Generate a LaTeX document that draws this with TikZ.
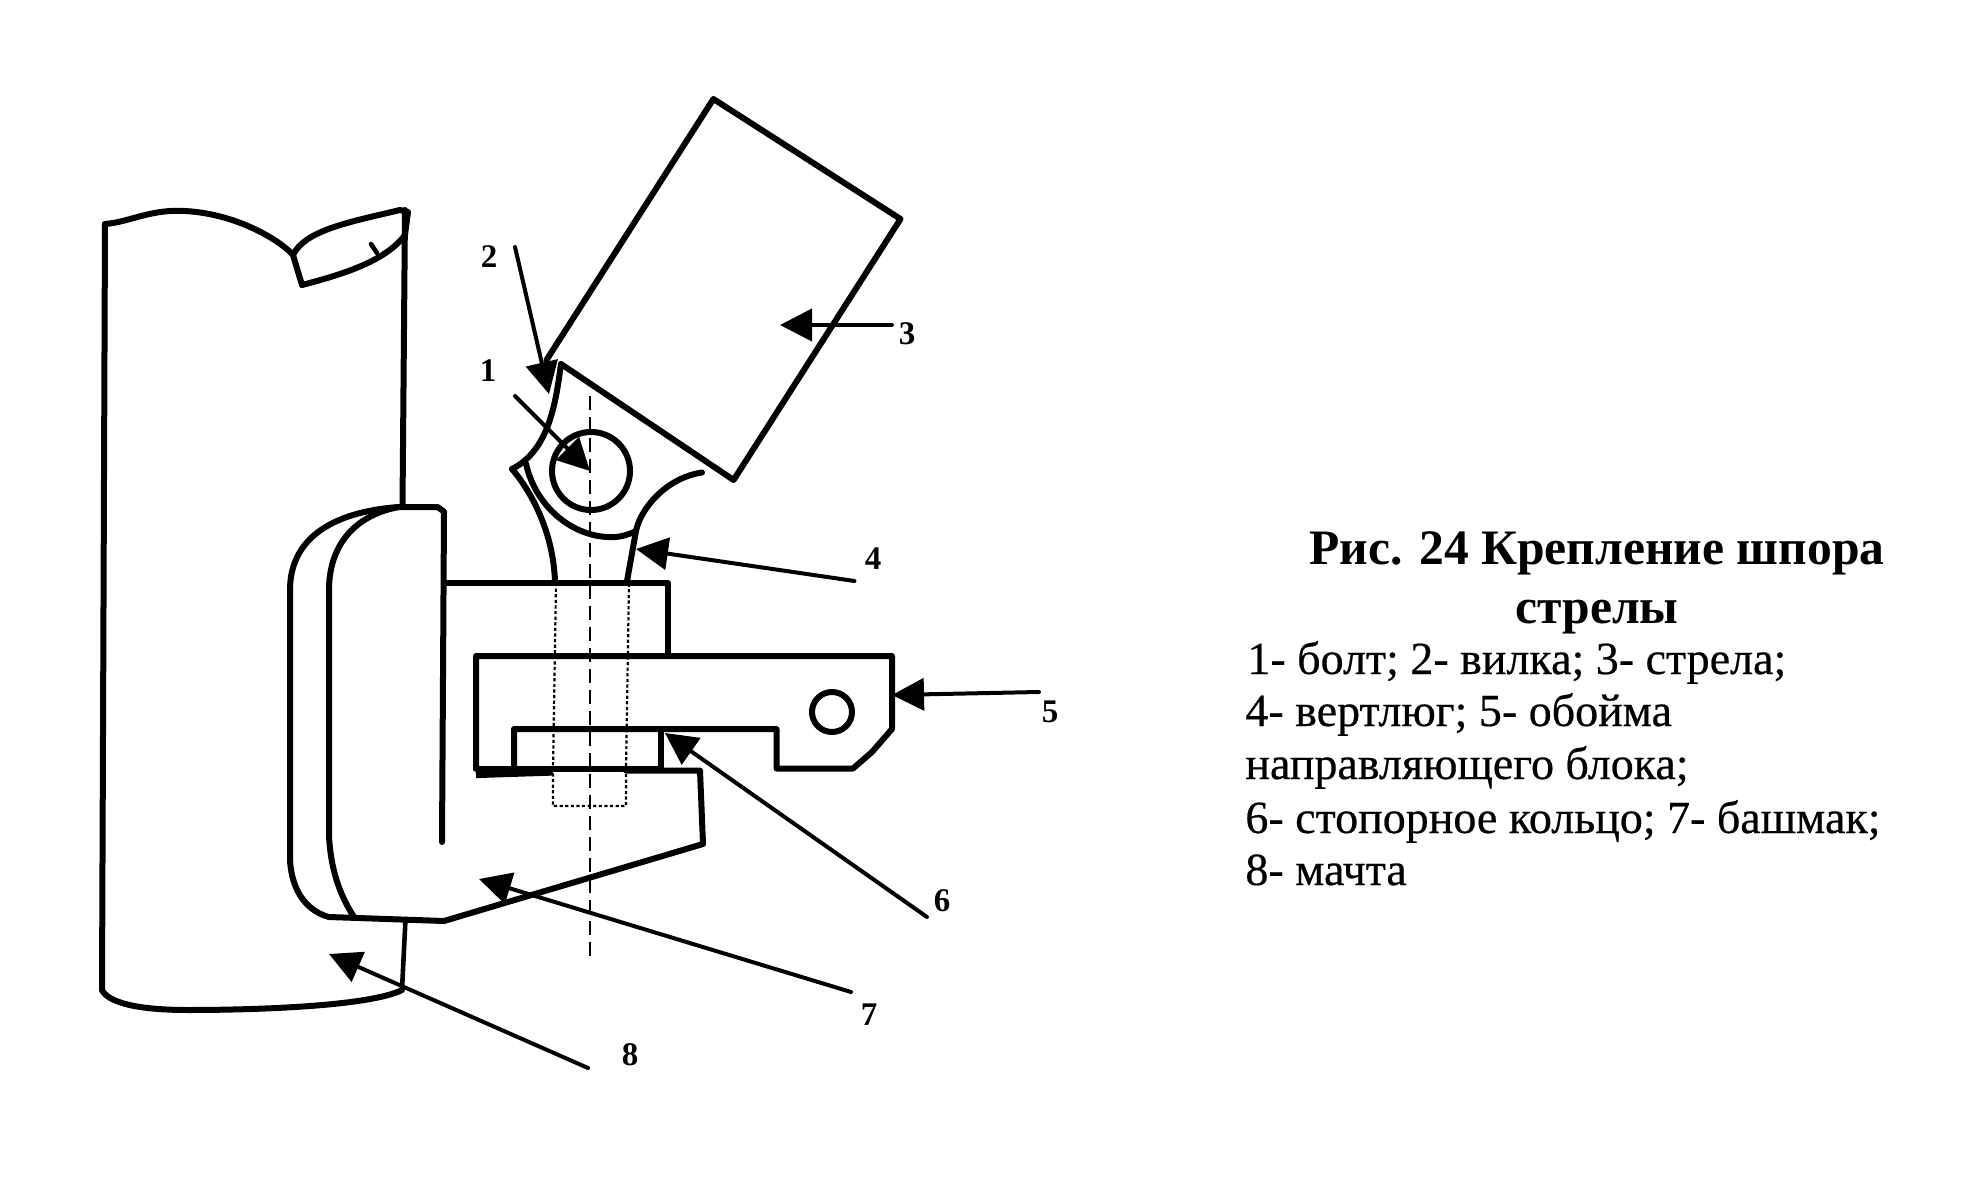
\documentclass[tikz,border=0pt]{standalone}
\usepackage{fontspec}
\setmainfont{Liberation Serif}
\newfontfamily\capfont[FakeBold=0.5]{Liberation Serif}
\usetikzlibrary{arrows.meta}
\tikzset{
  part/.style={line width=3pt,line cap=round,line join=round},
  thin part/.style={line width=2.3pt,line cap=round,line join=round},
  leader/.style={line width=2pt,line cap=round,-{Triangle[length=16pt,width=16pt]}},
  axisline/.style={line width=1.4pt,dash pattern=on 7pt off 3.5pt},
  hidden/.style={line width=1.1pt,dash pattern=on 1.6pt off 1.2pt},
  numlabel/.style={font=\bfseries\fontsize{16.5}{16.5}\selectfont,inner sep=0pt},
  caption/.style={font=\capfont\fontsize{23}{24}\selectfont,inner sep=0pt,anchor=base west},
  title/.style={font=\bfseries\fontsize{24.8}{25}\selectfont,inner sep=0pt,anchor=base}
}
\begin{document}
\begin{tikzpicture}[x=0.5pt,y=-0.5pt]
\path[use as bounding box,fill=white] (0,0) rectangle (1970,1192);

% mast
\draw[part] (405,210) -- (402.5,506);
\draw[part] (105,224) -- (102,990);
\draw[part] (105,224) .. controls (130,222) and (150,209) .. (185,211) .. controls (240,214) and (283,243) .. (293,255) -- (302,285);
\draw[part] (302,285) .. controls (340,275) and (385,262) .. (405,235) -- (408,212) -- (400,210);
\draw[part] (400,210) .. controls (350,222) and (305,230) .. (293,255);
\draw[thin part] (371,244) -- (377,253);
\draw[thin part] (405.5,919) -- (402,990);
\draw[part] (102,990) .. controls (108,1002) and (135,1010) .. (188,1010) .. controls (260,1010) and (370,1006) .. (402,990);

% boom
\draw[part] (546.5,360) -- (713.4,99) -- (900.5,219) -- (733.6,480) -- (561,364);

% fork / swivel
\draw[part] (561,364) .. controls (556,400) and (550,450) .. (512,469);
\draw[part] (512,469) .. controls (530,490) and (553,530) .. (555,581);
\draw[part] (526,463.6) .. controls (535,505) and (570,535) .. (607,537) .. controls (618,538) and (628,535) .. (636,531);
\draw[part] (702,472.5) .. controls (665,478) and (640,510) .. (636,531) -- (627,581);

% bolt
\node[draw,part,circle,minimum size=39pt,inner sep=0pt] (bolt) at (591,471) {};

% shoe
\draw[part] (290,590) .. controls (290,540) and (330,512) .. (399,507);
\draw[part] (399,507) -- (437.5,507) -- (444,511.6) -- (442,842);
\draw[part] (290,590) -- (290,860) .. controls (292,895) and (310,912) .. (329,917);
\draw[part] (399,507) .. controls (355,515) and (329,545) .. (329,590) -- (329,836) .. controls (331,875) and (343,900) .. (354,917);
\draw[part] (329,917) -- (444,921) -- (703,844) -- (700,770.5) -- (626,770.5);
\draw[part] (444,583) -- (668,583) -- (668,654);
\draw[line width=3.6pt] (476,774.5) -- (553,772);

% clamp
\draw[part] (476,768.5) -- (476,656) -- (892,656) -- (892,729) -- (872,752) -- (853,768.5) -- (776.5,768.5) -- (776.5,729) -- (514,729) -- (514,766.5);
\draw[part] (476,768.5) -- (514,768.5) -- (661,768.5) -- (661,733);
\node[draw,part,circle,minimum size=20pt,inner sep=0pt] (hole) at (832,712) {};

% hidden lines
\draw[axisline] (590,396) -- (590,956);
\draw[hidden] (556,583) -- (553,770) -- (553,806) -- (626,806) -- (626,770) -- (629,583);

% labels
\node[numlabel] (n1) at (488,371) {1};
\node[numlabel] (n2) at (489,257) {2};
\node[numlabel] (n3) at (907,334) {3};
\node[numlabel] (n4) at (873,559) {4};
\node[numlabel] (n5) at (1050,712) {5};
\node[numlabel] (n6) at (942,901) {6};
\node[numlabel] (n7) at (869,1015) {7};
\node[numlabel] (n8) at (630,1055) {8};

% leader ends
\coordinate (t1) at (515,396); \coordinate (h1) at (590,471);
\coordinate (t2) at (515,247); \coordinate (h2) at (549,394);
\coordinate (t3) at (892,325); \coordinate (h3) at (780,325);
\coordinate (t4) at (854.5,581); \coordinate (h4) at (636,549);
\coordinate (t5) at (1039,692); \coordinate (h5) at (892,695);
\coordinate (t6) at (927,917); \coordinate (h6) at (665,733);
\coordinate (t7) at (851,992); \coordinate (h7) at (479,879);
\coordinate (t8) at (588,1068); \coordinate (h8) at (329,954);
\foreach \i in {1,...,8} {\draw[leader] (t\i) -- (h\i);}

% caption
\node[title] (c1) at (1597,564) {Рис. 24 Крепление шпора};
\node[title] (c2) at (1597,623) {стрелы};
\node[caption] (c3) at (1247,674) {1- болт; 2- вилка; 3- стрела;};
\node[caption] (c4) at (1245,726) {4- вертлюг; 5- обойма};
\node[caption] (c5) at (1245,779) {направляющего блока;};
\node[caption] (c6) at (1245,833) {6- стопорное кольцо; 7- башмак;};
\node[caption] (c7) at (1245,885) {8- мачта};
\end{tikzpicture}
\end{document}
